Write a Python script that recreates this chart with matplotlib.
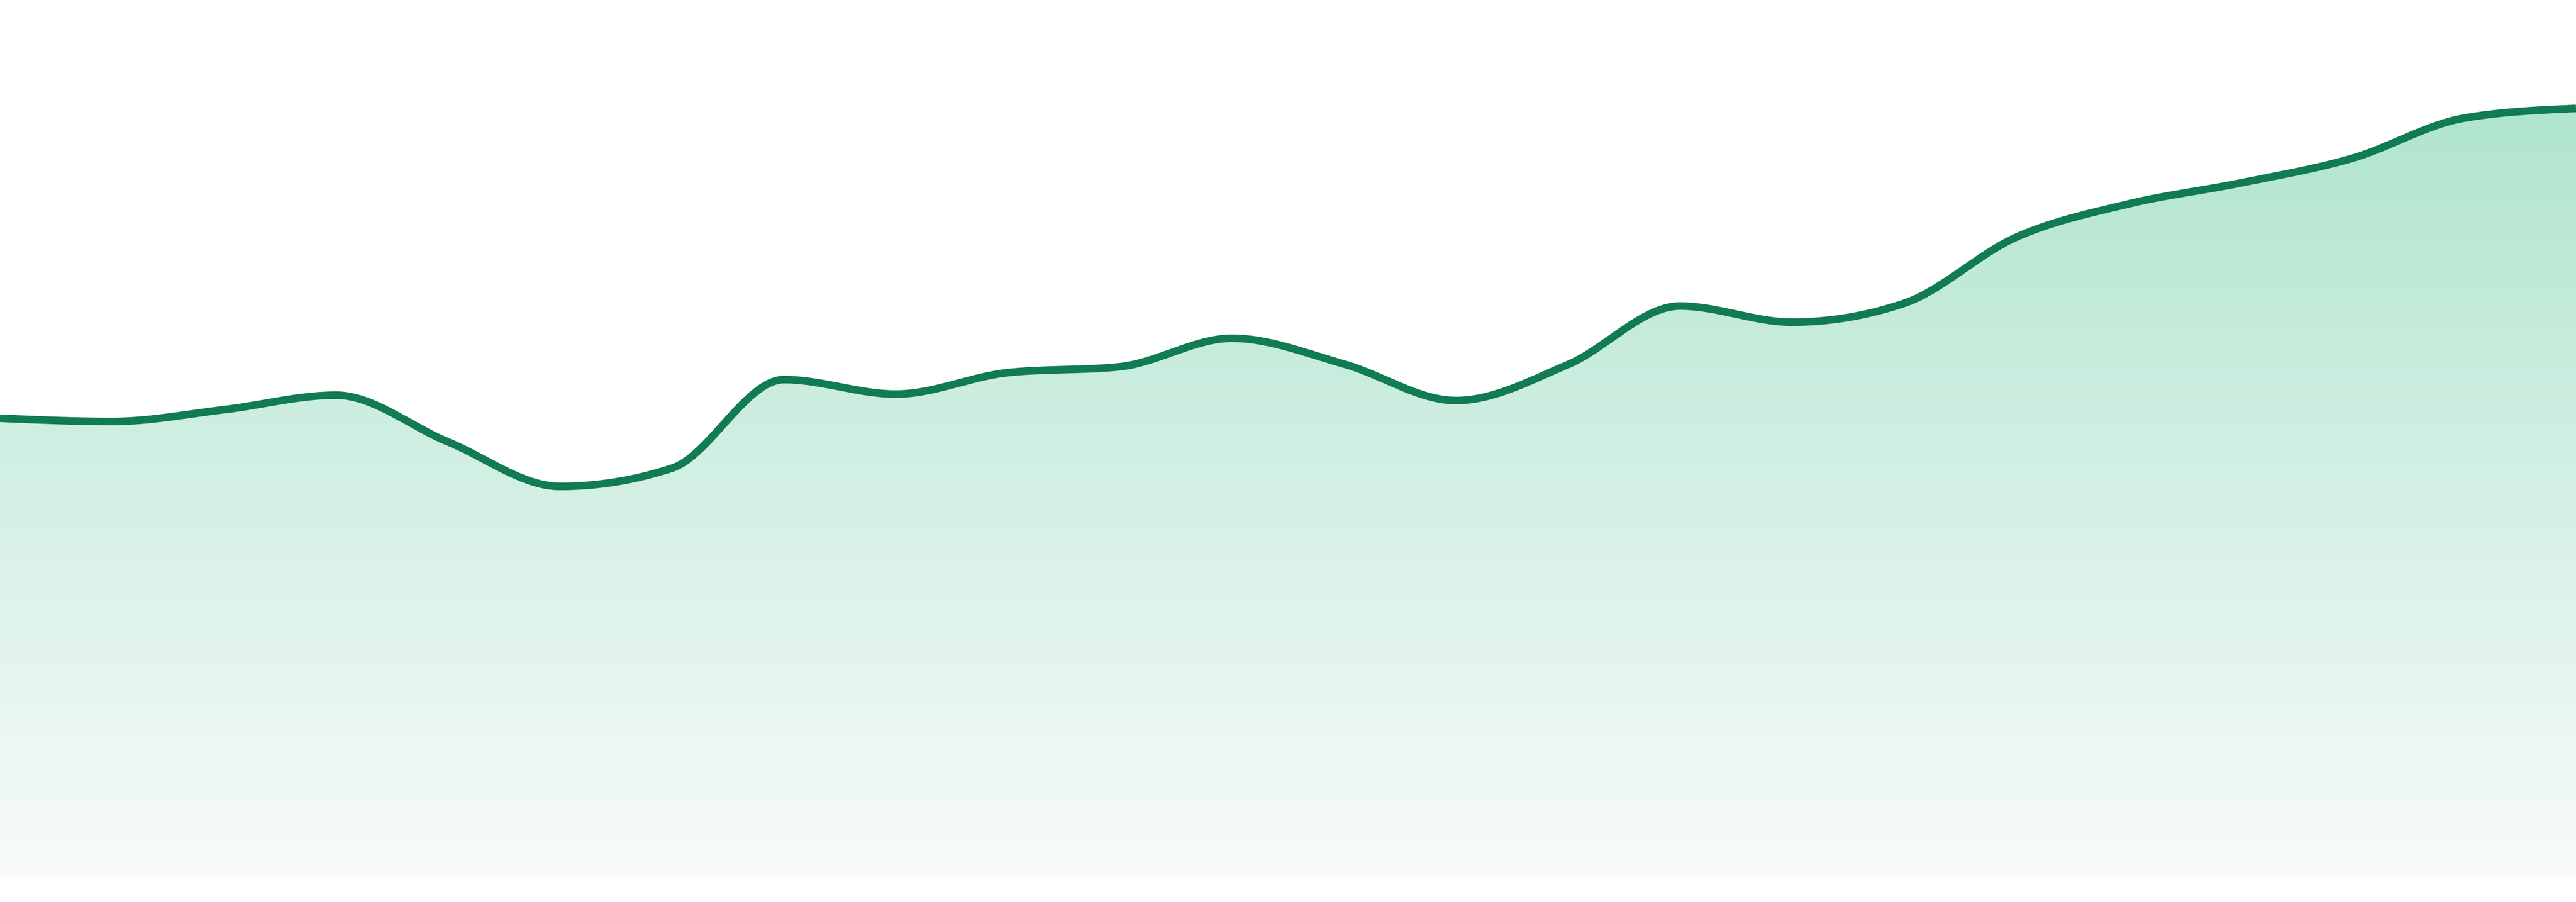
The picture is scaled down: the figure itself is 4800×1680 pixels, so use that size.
import matplotlib
matplotlib.use("Agg")
import matplotlib.pyplot as plt
import numpy as np
from matplotlib.colors import LinearSegmentedColormap

# data: one value per step
steps = np.arange(24)
values = [85.4, 84.8, 87.0, 89.7, 81.0, 72.7, 76.1, 92.6,
          89.9, 93.9, 95.0, 100.3, 95.5, 88.7, 95.4, 106.3,
          103.3, 106.8, 119.1, 125.3, 129.2, 133.8, 141.3, 143.1]

line_color = "#117b52"
fill_top = "#b0e5cf"
fill_bottom = "#f8fbfa"


def monotone_tangents(x, y):
    # same slopes as d3.curveMonotoneX (Steffen)
    x = np.asarray(x, float)
    y = np.asarray(y, float)
    h = np.diff(x)
    s = np.diff(y) / h
    t = np.zeros_like(y)
    for i in range(1, len(y) - 1):
        h0, h1 = h[i - 1], h[i]
        s0, s1 = s[i - 1], s[i]
        p = (s0 * h1 + s1 * h0) / (h0 + h1)
        t[i] = (np.sign(s0) + np.sign(s1)) * min(abs(s0), abs(s1), 0.5 * abs(p))
    t[0] = (3 * s[0] - t[1]) / 2
    t[-1] = (3 * s[-1] - t[-2]) / 2
    return t


def monotone_curve(x, y, n=60):
    x = np.asarray(x, float)
    y = np.asarray(y, float)
    t = monotone_tangents(x, y)
    xs, ys = [], []
    for i in range(len(x) - 1):
        dx = x[i + 1] - x[i]
        u = np.linspace(0, 1, n, endpoint=False)
        h00 = 2 * u**3 - 3 * u**2 + 1
        h10 = u**3 - 2 * u**2 + u
        h01 = -2 * u**3 + 3 * u**2
        h11 = u**3 - u**2
        xs.append(x[i] + u * dx)
        ys.append(h00 * y[i] + h10 * dx * t[i] + h01 * y[i + 1] + h11 * dx * t[i + 1])
    xs.append([x[-1]])
    ys.append([y[-1]])
    return np.concatenate(xs), np.concatenate(ys)


cx, cy = monotone_curve(steps, values)

fig = plt.figure(figsize=(16, 5.6), dpi=300)
ax = fig.add_axes([0, 0, 1, 1])
ax.set_xlim(steps[0], steps[-1])
# small white band under the baseline, as in the reference
ax.set_ylim(-4.7, 163.3)
ax.axis("off")

# gradient fill under the curve
poly = ax.fill_between(cx, cy, 0, color="none", lw=0)
cmap = LinearSegmentedColormap.from_list("g", [fill_bottom, fill_top])
grad = np.linspace(0, 1, 256).reshape(-1, 1)
img = ax.imshow(grad, cmap=cmap, aspect="auto", origin="lower",
                extent=[steps[0], steps[-1], 0, max(values)], zorder=1)
path = poly.get_paths()[0]
img.set_clip_path(path, transform=ax.transData)

ax.plot(cx, cy, color=line_color, lw=3.4, solid_capstyle="butt", zorder=3)

fig.savefig("out.png", dpi=300, facecolor="white")
